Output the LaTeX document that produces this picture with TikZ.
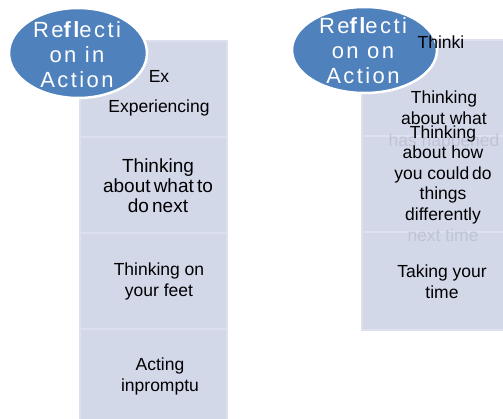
\documentclass[tikz,border=0pt]{standalone}
\usepackage{fontspec}
\setmainfont{Liberation Sans}
\newfontfamily\ellfont[LetterSpace=11]{Liberation Sans}
\usetikzlibrary{shapes.geometric}
\definecolor{colfill}{HTML}{D3D8E9}
\definecolor{colline}{HTML}{DDE1EF}
\definecolor{ellfill}{HTML}{4F81BD}
\definecolor{faint}{HTML}{BEC3D6}
\begin{document}
\begin{tikzpicture}[x=1pt,y=-1pt,
  seg/.style={fill=colfill,draw=colline,line width=1.2pt},
  ell/.style={ellipse,fill=ellfill,draw=white,line width=2.5pt,inner sep=0},
  elltext/.style={text=white,font=\ellfont\fontsize{22}{25}\selectfont,align=center,anchor=base,inner sep=0},
  body/.style={font=\fontsize{17.5}{20.5}\selectfont,align=center,anchor=base,inner sep=0},
  bigbody/.style={body,font=\fontsize{19}{20}\selectfont},
  faintbody/.style={body,text=faint}]
\useasboundingbox (0,0) rectangle (503,418);
\fill[white] (0,0) rectangle (503,418);
% left column
\draw[seg] (80,41) rectangle (227,137);
\draw[seg] (80,137) rectangle (227,233);
\draw[seg] (80,233) rectangle (227,329);
\draw[seg] (80,329) rectangle (227,425);
% right column
\draw[seg] (362,40) rectangle (525,136);
\draw[seg] (362,136) rectangle (525,232);
\draw[seg] (362,232) rectangle (525,330);
% ellipses
\node[ell,minimum width=138pt,minimum height=90pt] (e1) at (78,53) {};
\node[ell,minimum width=145pt,minimum height=86pt] (e2) at (364.5,50) {};
\node[elltext] (t1) at (77,87) {Re{\bfseries fl}ecti\\on in\\Action};
\node[elltext] (t2) at (363,83) {Re{\bfseries fl}ecti\\on on\\Action};
% left texts
\node[body] (l0) at (159,82) {Ex};
\node[body] (l1) at (159,112) {Experiencing};
\node[bigbody] (l2) at (158,212) {Thinking\\about\,what\,to\\do\,next};
\node[body] (l3) at (159,296) {Thinking on\\your feet};
\node[body] (l4) at (160,391) {Acting\\inpromptu};
% right texts
\node[body] (r0) at (441,48) {Thinki};
\node[body] (r1) at (444,124) {Thinking\\about what};
\node[faintbody] (r1b) at (444,146) {has happened};
\node[body] (r2) at (443,220) {Thinking\\about how\\you could\,do\\things\\differently};
\node[faintbody] (r2b) at (443,241) {next time};
\node[body] (r3) at (442,298) {Taking your\\time};
\end{tikzpicture}
\end{document}
